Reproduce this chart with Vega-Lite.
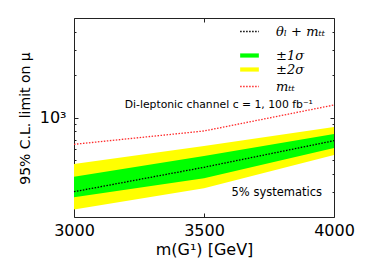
{
  "$schema": "https://vega.github.io/schema/vega-lite/v6.json",
  "width": 260,
  "height": 199,
  "autosize": "none",
  "padding": {"left": 74, "top": 18, "right": 40, "bottom": 63},
  "config": {
    "view": {"stroke": "#222", "strokeWidth": 1},
    "font": "DejaVu Sans",
    "axis": {"grid": false, "domain": false, "tickColor": "#222", "tickWidth": 1, "labelColor": "#000", "titleColor": "#000", "labelFont": "DejaVu Sans", "titleFont": "DejaVu Sans", "titleFontWeight": "normal"},
    "legend": {"orient": "none", "padding": 0, "title": null, "symbolSize": 100, "labelOffset": 20, "rowPadding": 0, "labelFont": "DejaVu Serif", "labelFontStyle": "italic", "labelFontSize": 13, "labelColor": "#000", "legendX": 169}
  },
  "data": {
    "values": [
      {"m": 3000, "lo2": 226, "lo1": 275, "med": 301, "hi1": 384, "hi2": 471, "mtt": 648},
      {"m": 3500, "lo2": 318, "lo1": 374, "med": 447, "hi1": 536, "hi2": 631, "mtt": 804},
      {"m": 4000, "lo2": 545, "lo1": 610, "med": 687, "hi1": 766, "hi2": 858, "mtt": 1224}
    ]
  },
  "layer": [
    {
      "mark": {"type": "area", "opacity": 1},
      "encoding": {
        "x": {"field": "m", "type": "quantitative", "scale": {"domain": [3000, 4000], "nice": false, "zero": false},
          "axis": {"orient": "bottom", "values": [3000, 3500, 4000], "tickSize": -4, "labelPadding": 9, "labelFontSize": 16, "labelFlush": false, "labelOverlap": false, "format": "d", "title": "m(G¹) [GeV]", "titleFontSize": 16, "titleY": 32, "titleBaseline": "middle"}},
        "y": {"field": "hi2", "type": "quantitative", "scale": {"type": "log", "domain": [200, 5000], "nice": false},
          "axis": {"orient": "left", "values": [300, 400, 500, 600, 700, 800, 900, 1000, 2000, 3000, 4000], "labelExpr": "datum.value == 1000 ? '10³' : ''", "tickSize": {"condition": {"test": "datum.value == 1000", "value": -4}, "value": -2}, "labelPadding": 12, "labelFontSize": 16, "labelOverlap": false, "title": "95% C.L. limit on μ", "titleFontSize": 14, "titleX": -49, "titleY": 100, "titleAngle": -90, "titleBaseline": "middle", "titleAlign": "center"}},
        "y2": {"field": "lo2"},
        "fill": {"datum": "±2σ", "type": "nominal",
          "scale": {"domain": ["±1σ", "±2σ"], "range": ["#00ff00", "#ffff00"]},
          "legend": {"orient": "none", "legendX": 169, "legendY": 31, "symbolType": "M-1.87,-0.42H1.87V0.42H-1.87Z", "symbolStrokeWidth": 0, "symbolOpacity": 1, "labelOffset": 20, "rowPadding": 0}}
      }
    },
    {
      "mark": {"type": "area", "opacity": 1},
      "encoding": {
        "x": {"field": "m", "type": "quantitative", "axis": {"orient": "top", "values": [3000, 3500, 4000], "tickSize": -4, "labels": false, "title": null}},
        "y": {"field": "hi1", "type": "quantitative", "axis": {"orient": "right", "values": [300, 400, 500, 600, 700, 800, 900, 1000, 2000, 3000, 4000], "tickSize": {"condition": {"test": "datum.value == 1000", "value": -4}, "value": -2}, "labels": false, "title": null}},
        "y2": {"field": "lo1"},
        "fill": {"datum": "±1σ", "type": "nominal",
          "legend": {"orient": "none", "legendX": 169, "legendY": 31, "symbolType": "M-1.87,-0.42H1.87V0.42H-1.87Z", "symbolStrokeWidth": 0, "symbolOpacity": 1, "labelOffset": 20, "rowPadding": 0}}
      }
    },
    {
      "mark": {"type": "line", "strokeWidth": 1.3, "strokeDash": [1.5, 1.5]},
      "encoding": {
        "x": {"field": "m", "type": "quantitative", "axis": null},
        "y": {"field": "med", "type": "quantitative", "axis": null},
        "stroke": {"datum": "θₗ + mₜₜ", "type": "nominal", "scale": {"range": ["#000000"]},
          "legend": {"orient": "none", "legendX": 169, "legendY": 7, "symbolType": "M-1.87,0H1.87", "symbolDash": [1.5, 1.5], "symbolStrokeWidth": 1.3, "symbolStrokeColor": "#000000", "symbolFillColor": "transparent", "labelOffset": 20}}
      }
    },
    {
      "mark": {"type": "line", "strokeWidth": 1.3, "color": "#ff2a2a"},
      "encoding": {
        "x": {"field": "m", "type": "quantitative", "axis": null},
        "y": {"field": "mtt", "type": "quantitative", "axis": null},
        "strokeDash": {"datum": "mₜₜ", "type": "nominal", "scale": {"range": [[1.5, 1.5]]},
          "legend": {"orient": "none", "legendX": 169, "legendY": 62, "symbolType": "M-1.87,0H1.87", "symbolStrokeWidth": 1.3, "symbolStrokeColor": "#ff2a2a", "symbolFillColor": "transparent", "labelOffset": 20}}
      }
    },
    {
      "data": {"values": [{"label": "Di-leptonic channel c = 1, 100 fb⁻¹"}]},
      "mark": {"type": "text", "align": "right", "baseline": "middle", "fontSize": 10.8, "font": "DejaVu Sans", "color": "#000"},
      "encoding": {
        "x": {"datum": 3919, "type": "quantitative", "axis": null},
        "y": {"datum": 1218, "type": "quantitative", "axis": null},
        "text": {"field": "label"}
      }
    },
    {
      "data": {"values": [{"label": "5% systematics"}]},
      "mark": {"type": "text", "align": "right", "baseline": "middle", "fontSize": 11.5, "font": "DejaVu Sans", "color": "#000"},
      "encoding": {
        "x": {"datum": 3954, "type": "quantitative", "axis": null},
        "y": {"datum": 293, "type": "quantitative", "axis": null},
        "text": {"field": "label"}
      }
    }
  ],
  "resolve": {"axis": {"x": "independent", "y": "independent"}}
}
